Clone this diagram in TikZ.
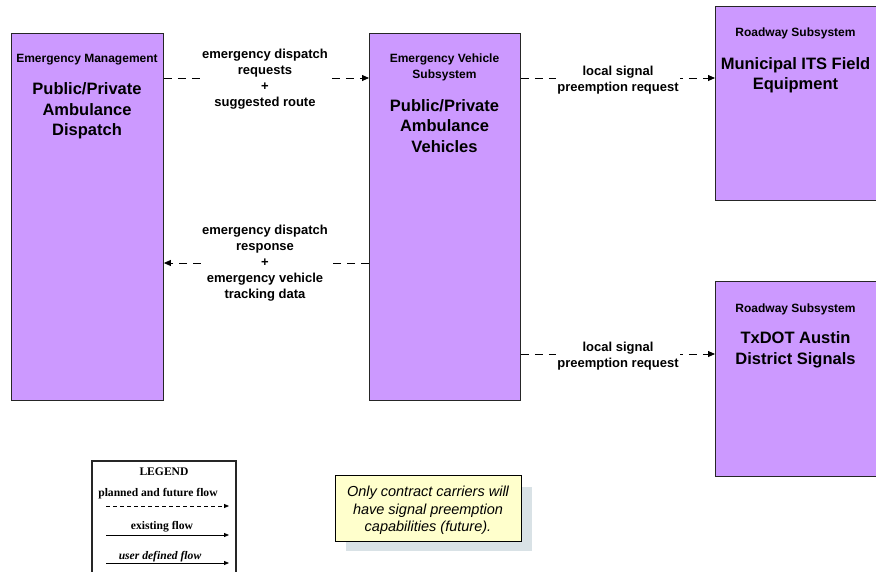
\documentclass[tikz,border=0pt]{standalone}
\usepackage{fontspec}
\setmainfont{Liberation Sans}
\newfontfamily\legendfont{Liberation Serif}
\usetikzlibrary{arrows.meta}
\definecolor{boxpurple}{HTML}{CC99FF}
\definecolor{noteyellow}{HTML}{FFFFCC}
\definecolor{shadowgray}{HTML}{D9E2E6}
\begin{document}
\begin{tikzpicture}[x=1pt,y=-1pt,
  sysbox/.style={draw=black!85, line width=0.9pt, fill=boxpurple, inner sep=0pt, anchor=north west},
  hdr/.style={font=\fontsize{12}{16}\selectfont\bfseries, align=center, inner sep=0pt},
  ttl/.style={font=\fontsize{16.5}{20.5}\selectfont\bfseries, align=center, inner sep=0pt},
  flowlbl/.style={font=\fontsize{13}{16}\selectfont\bfseries, align=center, fill=white, inner sep=1.5pt},
  flow/.style={dash pattern=on 8pt off 6pt, line width=0.8pt, -{Triangle[length=7pt,width=6pt]}},
  legtxt/.style={font=\legendfont\fontsize{11.6}{12}\selectfont\bfseries, inner sep=0pt},
  legarrow/.style={line width=0.8pt, -{Triangle[length=5pt,width=4pt]}},
  notebox/.style={draw=black, line width=0.8pt, fill=noteyellow, anchor=north west, inner sep=0pt},
  notetext/.style={align=center, font=\fontsize{14.5}{17.5}\selectfont\itshape, inner sep=0pt},
]
\useasboundingbox (0,0) rectangle (876,571);
\fill[white] (0,0) rectangle (876,571);

% system boxes
\node[sysbox, minimum width=152pt, minimum height=367pt] (amb) at (11,33) {};
\node[sysbox, minimum width=151pt, minimum height=367pt] (veh) at (369,33) {};
\node[sysbox, minimum width=161pt, minimum height=194pt] (mun) at (715,6) {};
\node[sysbox, minimum width=161pt, minimum height=195pt] (txd) at (715,281) {};

% box texts
\node[hdr] (ambh) at (87,60) {Emergency Management};
\node[ttl] (ambt) at (87,111) {Public/Private\\Ambulance\\Dispatch};
\node[hdr] (vehh) at (444.5,67) {Emergency Vehicle\\Subsystem};
\node[ttl] (veht) at (444.5,126) {Public/Private\\Ambulance\\Vehicles};
\node[hdr] (munh) at (795.5,33) {Roadway Subsystem};
\node[ttl] (munt) at (795.5,75) {Municipal ITS Field\\Equipment};
\node[hdr] (txdh) at (795.5,309) {Roadway Subsystem};
\node[ttl] (txdt) at (795.5,350) {TxDOT Austin\\District Signals};

% flows
\draw[flow] (amb.east |- 0,78) -- (veh.west |- 0,78);
\node[flowlbl] (l1) at (265,79) {emergency dispatch\\requests\\+\\suggested route};
\draw[flow] (veh.west |- 0,263) -- (amb.east |- 0,263);
\node[flowlbl] (l2) at (265,263) {emergency dispatch\\response\\+\\emergency vehicle\\tracking data};
\draw[flow] (veh.east |- 0,78) -- (mun.west |- 0,78);
\node[flowlbl] (l3) at (618,80) {local signal\\preemption request};
\draw[flow] (veh.east |- 0,354) -- (txd.west |- 0,354);
\node[flowlbl] (l4) at (618,356) {local signal\\preemption request};

% legend
\draw[line width=1.1pt, draw=black!85] (92,461) rectangle (236,590);
\node[legtxt] (legh) at (164,472) {LEGEND};
\node[legtxt] (leg1) at (158,494) {planned and future flow};
\coordinate (a1s) at (106,506); \coordinate (a1e) at (229,506);
\draw[legarrow, dash pattern=on 4pt off 3pt] (a1s) -- (a1e);
\node[legtxt] (leg2) at (162,527) {existing flow};
\coordinate (a2s) at (106,535); \coordinate (a2e) at (229,535);
\draw[legarrow] (a2s) -- (a2e);
\node[legtxt, font=\legendfont\fontsize{11.6}{12}\selectfont\bfseries\itshape] (leg3) at (160,557) {user defined flow};
\coordinate (a3s) at (106,563); \coordinate (a3e) at (229,563);
\draw[legarrow] (a3s) -- (a3e);

% note
\fill[shadowgray] (346,487) rectangle (532,551);
\node[notebox, minimum width=186pt, minimum height=66pt] (note) at (335,475) {};
\node[notetext] (notet) at (428,510.5)
  {Only contract carriers will\\have signal preemption\\capabilities (future).};
\end{tikzpicture}
\end{document}
